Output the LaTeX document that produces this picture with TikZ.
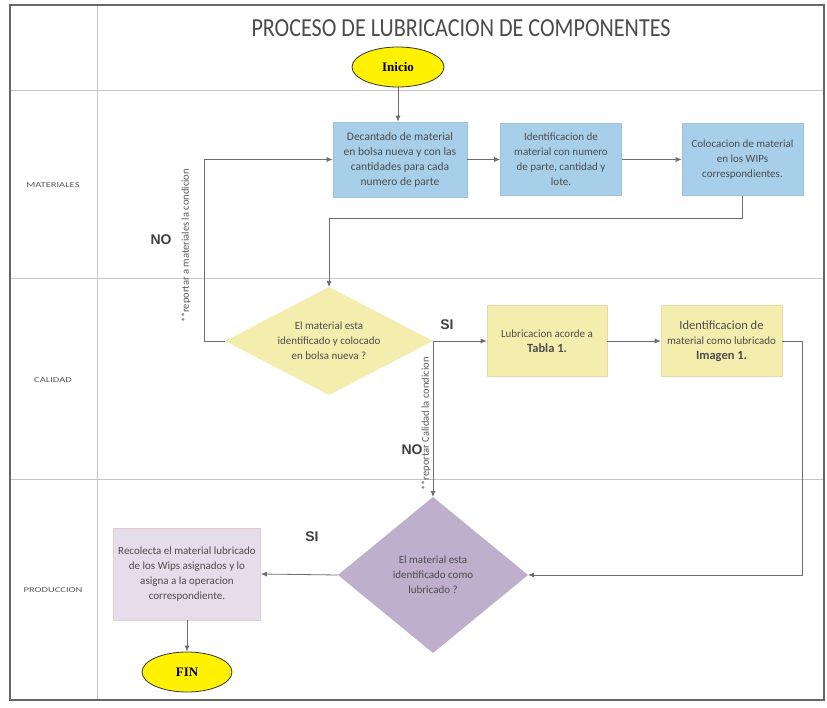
\documentclass[tikz,border=0pt]{standalone}
\usepackage{fontspec}
\setmainfont{Carlito}
\newfontfamily\titlefont{Carlito}[FakeStretch=0.85]
\newfontfamily\lanefont{Carlito}[FakeStretch=1.4]
\newfontfamily\termfont{Liberation Serif}
\newfontfamily\labfont{Liberation Sans}
\usetikzlibrary{shapes.geometric,arrows.meta}
\definecolor{boxblue}{HTML}{A8CFEA}
\definecolor{boxblueline}{HTML}{9CC2DD}
\definecolor{boxyel}{HTML}{F4EEAE}
\definecolor{boxyelline}{HTML}{EAD9A6}
\definecolor{diapurple}{HTML}{BEAFCC}
\definecolor{boxlav}{HTML}{E5DDE9}
\definecolor{boxlavline}{HTML}{EBCAD3}
\definecolor{conn}{HTML}{6E6E6E}
\definecolor{txt}{HTML}{4C4C4C}
\definecolor{lane}{HTML}{C4C4C4}
\tikzset{
  procbox/.style={rectangle, draw, line width=0.6pt, inner sep=0pt, align=center,
    text=txt, font=\fontsize{11}{15}\selectfont},
  bluebox/.style={procbox, fill=boxblue, draw=boxblueline},
  yelbox/.style={procbox, fill=boxyel, draw=boxyelline},
  lavbox/.style={procbox, fill=boxlav, draw=boxlavline},
  decision/.style={diamond, inner sep=0pt, outer sep=0pt, align=center, text=txt,
    font=\fontsize{11}{15}\selectfont},
  term/.style={ellipse, draw=black!80, line width=0.8pt, fill=yellow,
    minimum width=92pt, minimum height=40pt, inner sep=0pt,
    font=\termfont\bfseries\fontsize{13}{15}\selectfont},
  flow/.style={draw=conn, line width=0.8pt, -{Latex[length=6pt,width=5pt]}},
  decisionlabel/.style={font=\labfont\bfseries\fontsize{14}{16}\selectfont, text=black!75},
  note/.style={rotate=90, font=\fontsize{10.5}{12}\selectfont, text=black!65},
  lanelabel/.style={font=\lanefont\fontsize{7.5}{9}\selectfont, text=black!65},
  laneline/.style={draw=lane, line width=0.8pt}
}
\begin{document}
\begin{tikzpicture}[x=1pt,y=-1pt]
\useasboundingbox[fill=white] (0,0) rectangle (827,708);
% frame and lanes
\draw[laneline] (97,5) -- (97,700);
\draw[laneline] (10,90) -- (824,90);
\draw[laneline] (10,278) -- (824,278);
\draw[laneline] (10,479) -- (824,479);
\draw[draw=black!60, line width=1.3pt] (10,5) rectangle (824,700);
\node[lanelabel] (lm) at (53,185) {MATERIALES};
\node[lanelabel] (lc) at (53,380) {CALIDAD};
\node[lanelabel] (lp) at (53,590) {PRODUCCION};
% title
\node[font=\titlefont\fontsize{26}{28}\selectfont, text=black!70] (title) at (461,28) {PROCESO DE LUBRICACION DE COMPONENTES};
% nodes
\node[term] (inicio) at (398,67) {Inicio};
\node[bluebox, minimum width=134pt, minimum height=75pt, font=\fontsize{11.5}{15}\selectfont] (b1) at (400,159.5)
  {Decantado de material\\en bolsa nueva y con las\\cantidades para cada\\numero de parte};
\node[bluebox, minimum width=121pt, minimum height=72pt] (b2) at (561,159.5)
  {Identificacion de\\material con numero\\de parte, cantidad y\\lote.};
\node[bluebox, minimum width=121pt, minimum height=72pt] (b3) at (742.5,159.5)
  {Colocacion de material\\en los WIPs\\correspondientes.};
\node[decision, fill=boxyel, shape aspect=2.2, minimum width=208pt, minimum height=108pt] (d1) at (329,341)
  {El material esta\\identificado y colocado\\en bolsa nueva ?};
\node[yelbox, minimum width=120pt, minimum height=71pt] (b4) at (547,341)
  {Lubricacion acorde a\\{\bfseries\fontsize{12.5}{15}\selectfont Tabla 1.}};
\node[yelbox, minimum width=121pt, minimum height=71pt] (b5) at (721.5,341)
  {{\fontsize{12.5}{15}\selectfont Identificacion de}\\material como lubricado\\{\bfseries\fontsize{12.5}{14}\selectfont Imagen 1.}};
\node[decision, fill=diapurple, shape aspect=1.22, minimum width=190pt, minimum height=156pt] (d2) at (433,575)
  {El material esta\\identificado como\\lubricado ?};
\node[lavbox, minimum width=147pt, minimum height=92pt] (b6) at (187,574)
  {Recolecta el material lubricado\\de los Wips asignados y lo\\asigna a la operacion\\correspondiente.};
\node[term, minimum width=90pt] (fin) at (187,672) {FIN};
% connectors
\coordinate (m1) at (742.5,218);
\draw[flow] (inicio.south) -- (inicio.south |- b1.north);
\draw[flow] (b1.east) -- (b2.west);
\draw[flow] (b2.east) -- (b3.west);
\draw[flow] (b3.south) -- (m1) -| (d1.north);
\draw[flow] (d1.west) -- ++(-21,0) |- (b1.west);
\draw[flow] (d1.east) -- (b4.west);
\draw[flow] (b4.east) -- (b5.west);
\draw[flow] (b5.east) -- ++(20,0) |- (d2.east);
\draw[flow] (d1.east) -- (d2.north);
\draw[flow] (d2.west) -- (b6.east);
\draw[flow] (b6.south) -- (fin.north);
% labels
\node[decisionlabel] (no1) at (161,240) {NO};
\node[decisionlabel] (si1) at (447,325) {SI};
\node[decisionlabel] (no2) at (412,450) {NO};
\node[decisionlabel] (si2) at (312,537) {SI};
\node[note] (n1) at (186,246) {**reportar a materiales la condicion};
\node[note] (n2) at (426,424) {**reportar Calidad la condicion};
\end{tikzpicture}
\end{document}
